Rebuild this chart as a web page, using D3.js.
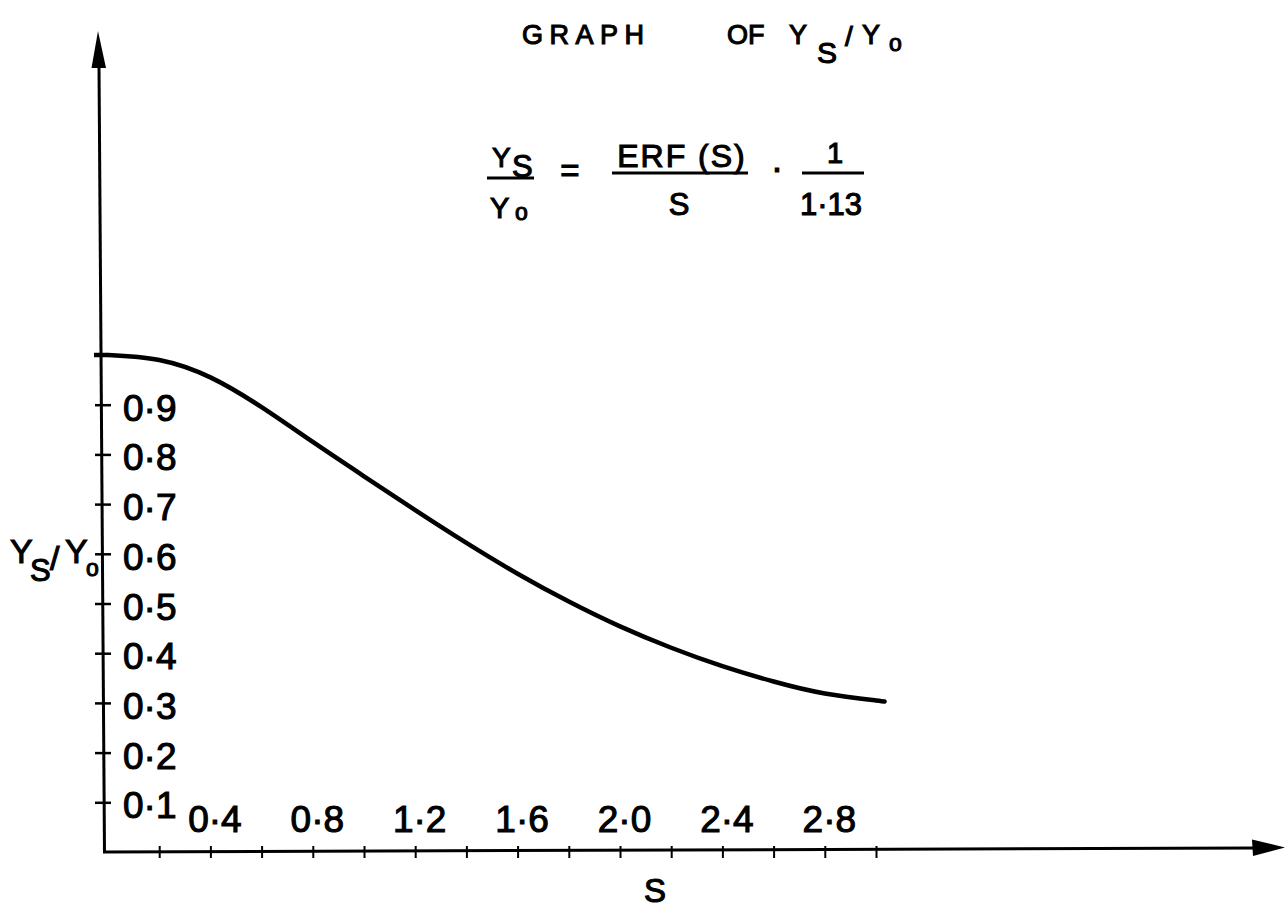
<!DOCTYPE html>
<html>
<head>
<meta charset="utf-8">
<script src="https://cdn.jsdelivr.net/npm/d3@7"></script>
<style>
  body { margin: 0; background: #fff; }
  svg { display: block; }
  text { font-family: "Liberation Sans", Arial, sans-serif; fill: #000; stroke: #000; stroke-width: 1.1px; }
</style>
</head>
<body>
<svg id="chart" width="1285" height="909"></svg>
<script>
// values (S, Ys/Yo)
const sValues     = [0, 0.2, 0.4, 0.6, 0.8, 1.0, 1.2, 1.4, 1.6, 1.8, 2.0, 2.2, 2.4, 2.6, 2.8, 3.0, 3.03];
const ratioValues = [1.0, 0.99, 0.955, 0.895, 0.825, 0.756, 0.688, 0.622, 0.56, 0.504, 0.454, 0.411, 0.374, 0.343, 0.319, 0.305, 0.303];

const xTicks = [0.2, 0.4, 0.6, 0.8, 1.0, 1.2, 1.4, 1.6, 1.8, 2.0, 2.2, 2.4, 2.6, 2.8, 3.0];
const xTickLabels = {0.4: "0·4", 0.8: "0·8", 1.2: "1·2", 1.6: "1·6", 2.0: "2·0", 2.4: "2·4", 2.8: "2·8"};
const yTicks = [0.1, 0.2, 0.3, 0.4, 0.5, 0.6, 0.7, 0.8, 0.9, 1.0];
const yTickLabels = {0.1: "0·1", 0.2: "0·2", 0.3: "0·3", 0.4: "0·4", 0.5: "0·5", 0.6: "0·6", 0.7: "0·7", 0.8: "0·8", 0.9: "0·9"};

const svg = d3.select("#chart");

const xScale = d3.scaleLinear().domain([0, 3]).range([108, 876]);
const yScale = d3.scaleLinear().domain([0, 1]).range([852, 355]);
const axisX = 102, axisY = 852;

// axis lines + arrow heads
svg.append("line")
    .attr("x1", 104.5).attr("y1", axisY + 1)
    .attr("x2", 99).attr("y2", 66)
    .attr("stroke", "#000").attr("stroke-width", 3);
svg.append("path")
    .attr("d", "M98,31 L91.5,68 L106,68 Z")
    .attr("fill", "#000");

svg.append("line")
    .attr("x1", 103).attr("y1", axisY)
    .attr("x2", 1256).attr("y2", 848)
    .attr("stroke", "#000").attr("stroke-width", 3);
svg.append("path")
    .attr("d", "M1285,847.5 L1252,839.5 L1253,856 Z")
    .attr("fill", "#000");

// x ticks, labels sit above the axis line
const xAxis = d3.axisTop(xScale)
    .tickValues(xTicks)
    .tickSizeInner(6)
    .tickSizeOuter(0)
    .tickPadding(14)
    .tickFormat(d => xTickLabels[d] || "");
const gx = svg.append("g")
    .attr("transform", "translate(0," + axisY + ")")
    .call(xAxis);
gx.select(".domain").remove();
gx.selectAll(".tick line").attr("y1", 6).attr("stroke-width", 2);
gx.selectAll(".tick text")
    .attr("font-size", 37)
    .attr("font-family", null)
    .attr("dx", 4);

// y ticks, labels to the right of the axis
const yAxis = d3.axisRight(yScale)
    .tickValues(yTicks)
    .tickSizeInner(9)
    .tickSizeOuter(0)
    .tickPadding(12)
    .tickFormat(d => yTickLabels[d] || "");
const gy = svg.append("g")
    .attr("transform", "translate(" + axisX + ",0)")
    .call(yAxis);
gy.select(".domain").remove();
gy.selectAll(".tick line").attr("x1", -7).attr("stroke-width", 2.5);
gy.selectAll(".tick text")
    .attr("font-size", 37)
    .attr("font-family", null)
    .attr("dy", "0.42em");

// the curve
const pts = sValues.map((s, i) => [s, ratioValues[i]]);
const line = d3.line()
    .x(d => xScale(d[0]))
    .y(d => yScale(d[1]))
    .curve(d3.curveNatural);
svg.append("path")
    .datum(pts)
    .attr("d", line)
    .attr("fill", "none")
    .attr("stroke", "#000")
    .attr("stroke-width", 4.5)
    .attr("stroke-linecap", "round");
// short lead-in to the axis at the top
svg.append("line")
    .attr("x1", 94).attr("y1", yScale(1))
    .attr("x2", xScale(0)).attr("y2", yScale(1))
    .attr("stroke", "#000").attr("stroke-width", 4.5);

function label(txt, x, y, size, anchor, extra) {
    const t = svg.append("text")
        .attr("x", x).attr("y", y)
        .attr("font-size", size)
        .attr("text-anchor", anchor || "start")
        .text(txt);
    if (extra) extra(t);
    return t;
}
function bar(x1, x2, y) {
    svg.append("line").attr("x1", x1).attr("x2", x2).attr("y1", y).attr("y2", y)
        .attr("stroke", "#000").attr("stroke-width", 3);
}

// title
label("GRAPH", 522, 44, 27, "start", t => t.attr("letter-spacing", 6.5));
label("OF", 727, 44, 27);
label("Y", 789, 44, 27);
label("S", 817, 63, 30);
label("/", 845, 46, 28);
label("Y", 862, 44, 27);
label("o", 889, 51, 23);

// formula
label("Y", 492, 167, 28);
label("S", 512, 177, 31);
bar(487, 534, 178);
label("Y", 490, 218, 29);
label("o", 515, 220, 23);
label("=", 570, 182, 33, "middle");
label("ERF (S)", 682, 167, 32, "middle", t => t.attr("letter-spacing", 2));
bar(612, 748, 173);
label("S", 679, 215, 31, "middle");
label("·", 777, 180, 36, "middle");
label("1", 835, 163, 29, "middle");
bar(802, 864, 173);
label("1·13", 831, 215, 31, "middle");

// axis titles
label("Y", 10, 563, 34);
label("S", 30, 581, 31);
label("/", 50, 570, 34);
label("Y", 65, 563, 34);
label("o", 86, 576, 23);
label("S", 655, 902, 33, "middle");
</script>
</body>
</html>
